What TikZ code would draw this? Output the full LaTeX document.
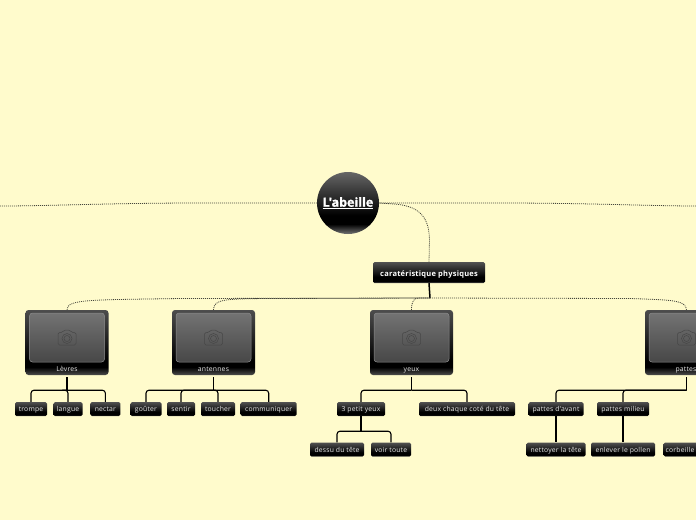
\documentclass[tikz,border=0pt]{standalone}
\usepackage{fontspec}
\setmainfont{Open Sans}
\newfontfamily\leaffont[LetterSpace=3]{Open Sans}
\newfontfamily\boxfont[LetterSpace=3]{Open Sans}
\newfontfamily\rootfont[BoldFeatures={FakeBold=1.6}]{Open Sans}
\definecolor{paper}{RGB}{255,251,204}
\definecolor{linkgray}{RGB}{70,70,60}
\pgfdeclareverticalshading{leafgrad}{100bp}{color(0bp)=(black!62!white);color(25bp)=(black!62!white);color(29bp)=(black);color(40bp)=(black);color(75bp)=(black!68!white);color(100bp)=(black!68!white)}
\pgfdeclareverticalshading{photograd}{100bp}{color(0bp)=(black!70!white);color(25bp)=(black!70!white);color(31bp)=(black);color(36bp)=(black);color(75bp)=(black!70!white);color(100bp)=(black!70!white)}
\pgfdeclareverticalshading{innergrad}{100bp}{color(0bp)=(black!72!white);color(25bp)=(black!72!white);color(75bp)=(black!55!white);color(100bp)=(black!55!white)}
\pgfdeclareverticalshading{rootgrad}{100bp}{color(0bp)=(black!55!white);color(25bp)=(black!55!white);color(33bp)=(black);color(40bp)=(black);color(75bp)=(black!60!white);color(100bp)=(black!60!white)}
\tikzset{
  x=1pt,y=-1pt,
  rootnode/.style={circle,minimum size=62pt,inner sep=0pt,shade,shading=rootgrad,text=white,font=\rootfont\fontsize{12.5}{14}\bfseries},
  mainbox/.style={rectangle,rounded corners=1.5pt,minimum width=112pt,minimum height=21pt,inner sep=0pt,text height=7.6pt,text depth=0pt,shade,shading=leafgrad,text=white,font=\boxfont\fontsize{7.5}{8}\bfseries},
  leafbox/.style={rectangle,rounded corners=1.5pt,minimum height=14pt,inner sep=0pt,text height=5.6pt,text depth=0pt,shade,shading=leafgrad,text=white!90!black,font=\leaffont\fontsize{6.8}{8}\selectfont},
  photobox/.style={rectangle,rounded corners=3pt,minimum width=83pt,minimum height=65pt,inner sep=0pt,shade,shading=photograd},
  photoinner/.style={rectangle,rounded corners=3pt,minimum width=75pt,minimum height=49pt,inner sep=0pt,shade,shading=innergrad,draw=black!45!white,line width=.5pt},
  phototext/.style={text=white!90!black,font=\leaffont\fontsize{6.8}{8}\selectfont,inner sep=0pt,text height=5.6pt,text depth=0pt},
  camline/.style={draw=black!72!white,line width=.5pt},
  branch/.style={draw=black,line width=1.1pt,rounded corners=3pt},
  stem/.style={draw=black,line width=1.5pt},
  trunk/.style={draw=black,line width=1.2pt},
  dotlink/.style={draw=linkgray,line width=.8pt,dash pattern=on 1pt off 1pt},
  camicon/.pic={
    \draw[camline,rounded corners=1.5pt] (-9,-5) -- (-4.5,-5) -- (-3,-7.5) -- (3,-7.5) -- (4.5,-5) -- (9,-5) -- (9,7.5) -- (-9,7.5) -- cycle;
    \draw[camline] (0,1) circle (5);
    \draw[camline] (0,1) circle (3);
  }
}
\begin{document}
\begin{tikzpicture}
\useasboundingbox (0,0) rectangle (696,520);
\clip (0,0) rectangle (696,520);
\fill[paper] (0,0) rectangle (696,520);

\coordinate (leftEnd) at (0,206);
\coordinate (rightEnd) at (696,206);
\coordinate (hub) at (430,298);

\node[rootnode] (root) at (348,203) {\underline{L'abeille}};
\node[mainbox] (car) at (429,272.5) {caratéristique physiques};

\node[photobox] (lev) at (67,342.5) {};
\node[photobox] (ant) at (213.5,342.5) {};
\node[photobox] (yeu) at (411.5,342.5) {};
\node[photobox] (pat) at (686.5,342.5) {};
\foreach \n in {lev,ant,yeu,pat}{
  \node[photoinner] (\n-in) at ([yshift=5pt]\n.center) {};
  \pic at (\n-in.center) {camicon};
}
\node[phototext] (levT) at (67,369) {Lèvres};
\node[phototext] (antT) at (213.5,369) {antennes};
\node[phototext] (yeuT) at (411.5,369) {yeux};
\node[phototext] (patT) at (686,369) {pattes};

\node[leafbox,minimum width=32pt] (a1) at (31,409) {trompe};
\node[leafbox,minimum width=29pt] (a2) at (68,409) {langue};
\node[leafbox,minimum width=30pt] (a3) at (105.4,409) {nectar};

\node[leafbox,minimum width=31pt] (b1) at (146,409) {goûter};
\node[leafbox,minimum width=28pt] (b2) at (181,409) {sentir};
\node[leafbox,minimum width=34pt] (b3) at (218,409) {toucher};
\node[leafbox,minimum width=56pt] (b4) at (268.7,409) {communiquer};

\node[leafbox,minimum width=48pt] (c1) at (361,409) {3 petit yeux};
\node[leafbox,minimum width=96pt] (c2) at (467,409) {deux chaque coté du tête};
\node[leafbox,minimum width=54pt] (c3) at (337,449.5) {dessu du tête};
\node[leafbox,minimum width=40pt] (c4) at (391,449.5) {voir toute};

\node[leafbox,minimum width=55pt] (d1) at (556,409) {pattes d'avant};
\node[leafbox,minimum width=52pt] (d2) at (623,409) {pattes milieu};
\node[leafbox,minimum width=59pt] (d3) at (556,449.5) {nettoyer la tête};
\node[leafbox,minimum width=64pt] (d4) at (623,449.5) {enlever le pollen};
\node[leafbox,minimum width=60pt,text width=56pt,align=left] (d5) at (693.7,449.5) {corbeille};

% upper dotted links
\draw[dotlink] (root.west) -- (200,203) .. controls (110,203) and (50,206) .. (leftEnd);
\draw[dotlink] (root.east) -- (500,203) .. controls (590,203) and (650,206) .. (rightEnd);
\draw[dotlink,dash phase=1pt] (root.east) -- (394,204) .. controls (424,206) and (429,222) .. (429.5,240) -- (car.north);

% main box to photo boxes
\draw[stem] (car.south) -- (hub);
\draw[dotlink] (hub) -- (180,298.5) .. controls (90,300) and (67,299) .. (lev.north);
\draw[dotlink,dash phase=1pt] (hub) -- (265,298.5) .. controls (226,299) and (213.5,299) .. (ant.north);
\draw[dotlink] (hub) -- (419,298) .. controls (414,298) and (411.5,301) .. (yeu.north);
\draw[dotlink] (hub) -- (630,298.5) .. controls (672,300) and (686,300) .. (pat.north);

% branches
\foreach \p/\c in {lev/a1,lev/a2,lev/a3,ant/b1,ant/b2,ant/b3,ant/b4,yeu/c1,yeu/c2,pat/d1,pat/d2}{
  \draw[stem] ([yshift=-2pt]\p.south) -- ([yshift=-15pt]\p.south);
  \draw[branch] ([yshift=-15pt]\p.south) -| (\c.north);
}
\foreach \c in {c3,c4}{
  \draw[stem] (c1.south) -- ([yshift=-15pt]c1.south);
  \draw[branch] ([yshift=-15pt]c1.south) -| (\c.north);
}
\draw[trunk] (d1.south) -- (d3.north);
\draw[trunk] (d2.south) -- (d4.north);
\end{tikzpicture}
\end{document}
